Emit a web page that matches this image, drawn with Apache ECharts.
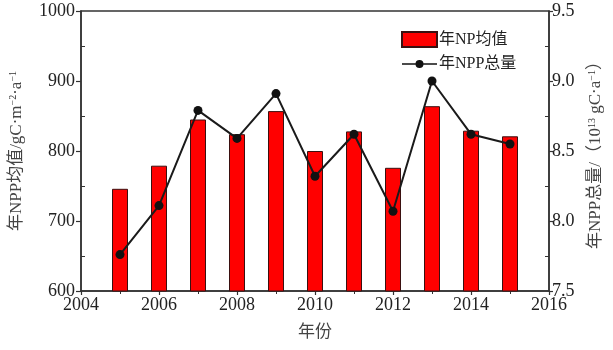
<!DOCTYPE html>
<html>
<head>
<meta charset="utf-8">
<script src="https://cdn.jsdelivr.net/npm/echarts@6/dist/echarts.min.js"></script>
<style>
  html, body { margin: 0; padding: 0; background: #fff; }
  #chart { width: 613px; height: 350px; }
</style>
</head>
<body>
<div id="chart"></div>
<script>
// Annual NPP: mean per unit area (bars, left axis) and total (line, right axis)
const years = [2005, 2006, 2007, 2008, 2009, 2010, 2011, 2012, 2013, 2014, 2015];
const nppMean = [746, 779, 845, 824, 857, 800, 828, 776, 864, 829, 821];
const nppTotal = [7.76, 8.11, 8.79, 8.59, 8.91, 8.32, 8.62, 8.07, 9.00, 8.62, 8.55];

const FONT = '"Liberation Serif", "Noto Sans CJK SC", serif';
const AXIS_COLOR = '#333';

const chart = echarts.init(document.getElementById('chart'), null, { renderer: 'canvas' });

const supStyle = { fontSize: 10, fontFamily: FONT, color: '#333', verticalAlign: 'top', lineHeight: 10 };

// legend glyph for the line series: short stroke with a dot in the middle
const lineIcon = 'path://M0 9.2 H35 V10.8 H0 Z M21.5 10 A4 4 0 1 1 13.5 10 A4 4 0 1 1 21.5 10 Z';

const option = {
  animation: false,
  backgroundColor: '#fff',
  grid: {
    left: 79, right: 60, top: 11, bottom: 59,
    show: true, borderColor: AXIS_COLOR, borderWidth: 1.5
  },
  legend: {
    orient: 'vertical',
    left: 396, top: 26,
    itemWidth: 35, itemHeight: 15, itemGap: 8,
    symbolKeepAspect: true,
    textStyle: { fontFamily: FONT, fontSize: 16, color: '#222', padding: [0, 0, 0, -3] },
    data: [
      { name: '年NP均值', icon: 'rect' },
      { name: '年NPP总量', icon: lineIcon }
    ]
  },
  xAxis: {
    type: 'value',
    min: 2004, max: 2016, interval: 2,
    name: '年份',
    nameLocation: 'middle',
    nameGap: 33,
    nameTextStyle: { fontFamily: FONT, fontSize: 17, color: '#444' },
    axisLine: { show: true, onZero: false, lineStyle: { color: AXIS_COLOR, width: 1.5 } },
    axisTick: { show: true, length: 4, lineStyle: { color: AXIS_COLOR, width: 1.2 } },
    minorTick: { show: true, splitNumber: 2, length: 3, lineStyle: { color: AXIS_COLOR, width: 1 } },
    splitLine: { show: false },
    axisLabel: { fontFamily: FONT, fontSize: 18, color: '#222', margin: 5, formatter: v => String(v) }
  },
  yAxis: [
    {
      type: 'value',
      position: 'left',
      min: 600, max: 1000, interval: 100,
      name: '年NPP均值/gC·m{s|−2}·a{s|−1}',
      nameLocation: 'middle',
      nameRotate: 90,
      nameGap: 55,
      nameTextStyle: { fontFamily: FONT, fontSize: 17, color: '#444', lineHeight: 18, rich: { s: supStyle } },
      axisLine: { show: true, lineStyle: { color: AXIS_COLOR, width: 1.5 } },
      axisTick: { show: true, length: 5, lineStyle: { color: AXIS_COLOR, width: 1.2 } },
      splitLine: { show: false },
      axisLabel: { fontFamily: FONT, fontSize: 18, color: '#222', margin: 6, formatter: v => String(v) }
    },
    {
      type: 'value',
      position: 'right',
      min: 7.5, max: 9.5, interval: 0.5,
      name: '年NPP总量/（10{s|13} gC·a{s|−1}）',
      nameLocation: 'middle',
      nameRotate: 90,
      nameGap: 38,
      nameTextStyle: { fontFamily: FONT, fontSize: 17, color: '#444', lineHeight: 18, rich: { s: supStyle } },
      axisLine: { show: true, lineStyle: { color: AXIS_COLOR, width: 1.5 } },
      axisTick: { show: true, length: 4, lineStyle: { color: AXIS_COLOR, width: 1.2 } },
      splitLine: { show: false },
      axisLabel: {
        fontFamily: FONT, fontSize: 18, color: '#222', margin: 3,
        formatter: v => v.toFixed(1)
      }
    },
    // inward minor ticks on the left axis
    {
      type: 'value', position: 'left', min: 600, max: 1000, interval: 100,
      axisLine: { show: false },
      axisLabel: { show: false },
      axisTick: { show: false, inside: true },
      minorTick: { show: true, splitNumber: 2, length: 4, lineStyle: { color: AXIS_COLOR, width: 1 } },
      splitLine: { show: false }
    },
    // inward minor ticks on the right axis
    {
      type: 'value', position: 'right', min: 7.5, max: 9.5, interval: 0.5,
      axisLine: { show: false },
      axisLabel: { show: false },
      axisTick: { show: false, inside: true },
      minorTick: { show: true, splitNumber: 2, length: 4, lineStyle: { color: AXIS_COLOR, width: 1 } },
      splitLine: { show: false }
    }
  ],
  series: [
    {
      name: '年NP均值',
      type: 'bar',
      yAxisIndex: 0,
      barWidth: 16,
      itemStyle: { color: '#ff0000', borderColor: '#3a1010', borderWidth: 1 },
      data: years.map((y, i) => [y, nppMean[i]])
    },
    {
      name: '年NPP总量',
      type: 'line',
      yAxisIndex: 1,
      symbol: 'circle',
      symbolSize: 9,
      lineStyle: { color: '#1a1a1a', width: 2 },
      itemStyle: { color: '#111' },
      data: years.map((y, i) => [y, nppTotal[i]])
    }
  ]
};

chart.setOption(option);
</script>
</body>
</html>
